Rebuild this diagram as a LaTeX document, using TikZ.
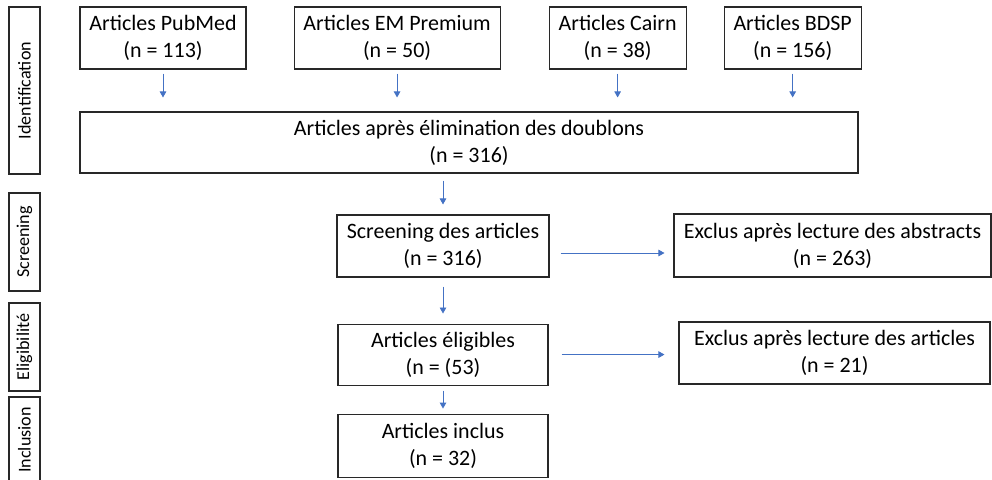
\documentclass[tikz,border=0pt]{standalone}
\usepackage{fontspec}
\setmainfont{Carlito}
\usetikzlibrary{arrows.meta, positioning}
\definecolor{arrowblue}{RGB}{68, 114, 196}
\definecolor{boxline}{RGB}{40, 40, 40}
\tikzset{
    % Boxes
    flowbox/.style={
        draw=boxline, line width=0.6pt, align=center,
        font=\fontsize{12.5}{15.3}\selectfont,
        minimum height=1.24cm, inner sep=2pt
    },
    % Phase labels on the left
    phaselabel/.style={
        draw=boxline, line width=0.6pt, rotate=90,
        font=\fontsize{10.3}{12}\selectfont,
        minimum height=0.62cm, inner sep=1pt
    },
    % Arrows
    myarrow/.style={-{Triangle[length=1.2mm, width=1.3mm]}, line width=0.5pt, arrowblue},
}

\begin{document}
\begin{tikzpicture}
\useasboundingbox (0,0) rectangle (19.84,-9.58);

% Phase labels
\node (ident) [phaselabel, minimum width=3.34cm] at (0.49,-1.81) {Identification};
\node (screen) [phaselabel, minimum width=1.96cm] at (0.49,-4.84) {Screening};
\node (elig) [phaselabel, minimum width=1.76cm] at (0.49,-6.94) {Eligibilité};
\node (incl) [phaselabel, minimum width=1.72cm] at (0.49,-8.8) {Inclusion};

% Sources
\node (pubmed) [flowbox, minimum width=3.32cm] at (3.26,-0.76) {Articles PubMed\\(n = 113)};
\node (empremium) [flowbox, minimum width=4.12cm, right=0.94cm of pubmed] {Articles EM Premium\\(n = 50)};
\node (cairn) [flowbox, minimum width=2.74cm, right=0.96cm of empremium] {Articles Cairn\\(n = 38)};
\node (bdsp) [flowbox, minimum width=2.74cm, right=0.74cm of cairn] {Articles BDSP\\(n = 156)};

% Duplicates removed
\node (doublons) [flowbox, minimum width=15.56cm, minimum height=1.22cm] at (9.38,-2.85) {Articles après élimination des doublons\\(n = 316)};

% Screening and eligibility
\node (screening) [flowbox, minimum width=4.24cm] at (8.86,-4.92) {Screening des articles\\(n = 316)};
\node (eligible) [flowbox, minimum width=4.2cm, minimum height=1.22cm, below=0.92cm of screening] {Articles éligibles\\(n = (53)};
\node (inclus) [flowbox, minimum width=4.2cm, minimum height=1.26cm, below=0.56cm of eligible] {Articles inclus\\(n = 32)};

% Exclusions
\node (exclabs) [flowbox, minimum width=6.34cm, minimum height=1.26cm] at (16.65,-4.91) {Exclus après lecture des abstracts\\(n = 263)};
\node (exclart) [flowbox, minimum width=6.22cm] at (16.69,-7.06) {Exclus après lecture des articles\\(n = 21)};

% Arrows
\foreach \src in {pubmed, empremium, cairn, bdsp}
    \draw[myarrow, shorten <=0.08cm, shorten >=0.28cm] (\src.south) -- (\src.south |- doublons.north);
\draw[myarrow, shorten <=0.14cm, shorten >=0.2cm] (doublons.south -| screening.north) -- (screening.north);
\draw[myarrow, shorten <=0.18cm, shorten >=0.2cm] (screening.south) -- (screening.south |- eligible.north);
\draw[myarrow, shorten <=0.1cm, shorten >=0.1cm] (eligible.south) -- (eligible.south |- inclus.north);
\draw[myarrow, shorten <=0.22cm, shorten >=0.18cm] ([yshift=-0.14cm]screening.east) -- ([yshift=-0.14cm]screening.east -| exclabs.west);
\draw[myarrow, shorten <=0.26cm, shorten >=0.28cm] (eligible.east) -- (eligible.east -| exclart.west);

\end{tikzpicture}
\end{document}
